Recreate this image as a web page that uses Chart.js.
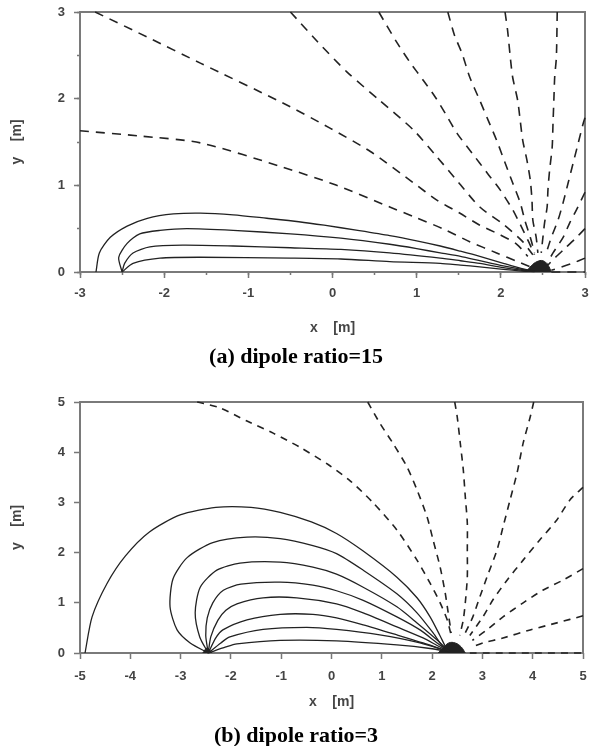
<!DOCTYPE html>
<html>
<head>
<meta charset="utf-8">
<script src="https://cdn.jsdelivr.net/npm/chart.js@4/dist/chart.umd.min.js"></script>
<style>
body { margin:0; background:#fff; width:589px; height:746px; position:relative; overflow:hidden; }
canvas { position:absolute; left:0; }
#chartA { top:0; }
#chartB { top:385px; }
.caption { position:absolute; left:0; width:592px; text-align:center; line-height:26px;
  font:bold 22px "Liberation Serif", "Times New Roman", serif; color:#000; }
</style>
</head>
<body>
<canvas id="chartA" width="589" height="345"></canvas>
<div class="caption" style="top:343px">(a) dipole ratio=15</div>
<canvas id="chartB" width="589" height="335"></canvas>
<div class="caption" style="top:722px">(b) dipole ratio=3</div>
<script>
'use strict'

// (a) dipole ratio=15 の実線（図から読み取った座標）
const aSolid1 = [[-2.81,0],[-2.77,0.22],[-2.64,0.40],[-2.44,0.53],[-2.20,0.62],[-1.89,0.67],[-1.57,0.68],[-1.18,0.66],[-0.78,0.62],[-0.4,0.58],[-0.1,0.54],[0.3,0.48],[0.68,0.42],[1.0,0.36],[1.28,0.30],[1.52,0.24],[1.75,0.18],[2.03,0.10],[2.25,0.04],[2.4,0.01]];
const aSolid2 = [[-2.5,0],[-2.54,0.17],[-2.44,0.33],[-2.29,0.44],[-2.05,0.48],[-1.73,0.50],[-1.18,0.48],[-0.5,0.44],[0.1,0.39],[0.68,0.32],[1.0,0.27],[1.28,0.22],[1.52,0.18],[1.75,0.13],[2.03,0.07],[2.25,0.03],[2.4,0.01]];
const aSolid3 = [[-2.5,0],[-2.47,0.10],[-2.37,0.22],[-2.17,0.29],[-1.78,0.31],[-1.18,0.30],[-0.5,0.28],[0.1,0.26],[0.68,0.22],[1.28,0.16],[1.52,0.13],[1.75,0.10],[2.03,0.05],[2.25,0.02],[2.4,0.01]];
const aSolid4 = [[-2.5,0],[-2.37,0.10],[-2.05,0.16],[-1.57,0.17],[-0.5,0.16],[0.1,0.15],[0.68,0.12],[1.28,0.10],[1.52,0.08],[1.75,0.06],[2.03,0.03],[2.25,0.01],[2.4,0.005]];

// (a) の破線（力線）
const aDash1 = [[-3,1.63],[-2.3,1.57],[-1.57,1.49],[-0.59,1.21],[0.05,1.0],[0.68,0.75],[0.96,0.64],[1.31,0.5],[1.63,0.35],[1.95,0.22],[2.2,0.12],[2.35,0.06]];
const aDash2 = [[-2.82,3],[-2.2,2.71],[-1.57,2.41],[-0.59,1.95],[-0.03,1.66],[0.45,1.39],[0.96,1.03],[1.24,0.83],[1.51,0.68],[1.75,0.54],[1.99,0.43],[2.19,0.32],[2.32,0.18]];
const aDash3 = [[-0.5,3],[-0.18,2.66],[0.17,2.31],[0.56,1.98],[0.96,1.64],[1.24,1.33],[1.5,1.03],[1.75,0.75],[2.03,0.55],[2.26,0.35],[2.38,0.2]];
const aDash4 = [[0.55,3],[0.77,2.64],[0.92,2.42],[1.08,2.21],[1.22,2.02],[1.34,1.83],[1.48,1.60],[1.66,1.37],[1.84,1.14],[1.99,0.95],[2.14,0.72],[2.23,0.55],[2.33,0.35],[2.4,0.2]];
const aDash5 = [[1.37,3],[1.45,2.73],[1.54,2.52],[1.63,2.25],[1.75,1.98],[1.85,1.75],[1.95,1.52],[2.05,1.26],[2.14,1.03],[2.23,0.80],[2.29,0.58],[2.35,0.4],[2.4,0.22]];
const aDash6 = [[2.05,3],[2.08,2.79],[2.11,2.50],[2.14,2.25],[2.2,1.98],[2.23,1.75],[2.26,1.52],[2.31,1.29],[2.35,1.06],[2.37,0.83],[2.38,0.60],[2.42,0.4],[2.44,0.22]];
const aDash7 = [[2.67,3],[2.66,2.48],[2.64,2.25],[2.63,1.98],[2.62,1.72],[2.61,1.44],[2.58,1.18],[2.56,0.95],[2.55,0.75],[2.52,0.57],[2.5,0.4],[2.48,0.22]];
const aDash8 = [[3,1.78],[2.98,1.72],[2.92,1.49],[2.86,1.26],[2.80,1.03],[2.74,0.80],[2.68,0.60],[2.6,0.4],[2.54,0.22]];
const aDash9 = [[3,0.92],[2.9,0.72],[2.82,0.57],[2.74,0.40],[2.62,0.22],[2.55,0.1]];
const aDash10 = [[3,0.5],[2.88,0.38],[2.76,0.27],[2.64,0.16],[2.56,0.08]];
const aDash11 = [[3,0.16],[2.85,0.1],[2.7,0.05],[2.6,0.02]];
const aDash12 = [[2.6,0],[3,0]];
// 極付近の黒い塊
const aBlob = [[2.3,0],[2.36,0.07],[2.43,0.12],[2.5,0.13],[2.56,0.08],[2.6,0]];

// (b) dipole ratio=3 の実線
const bSolid1 = [[-4.9,0],[-4.76,0.72],[-4.46,1.39],[-4.10,1.93],[-3.62,2.41],[-3.01,2.75],[-2.3,2.9],[-1.6,2.9],[-1.02,2.8],[-0.4,2.61],[0.1,2.38],[0.63,2.03],[1.30,1.51],[1.70,1.10],[1.96,0.72],[2.16,0.34],[2.27,0.12],[2.35,0.02]];
const bSolid2 = [[-2.45,0],[-2.81,0.20],[-3.07,0.46],[-3.21,0.92],[-3.15,1.48],[-2.87,1.9],[-2.36,2.2],[-1.68,2.31],[-1.02,2.28],[-0.37,2.14],[0.1,1.98],[0.63,1.65],[1.30,1.18],[1.70,0.8],[2.02,0.40],[2.22,0.12],[2.35,0.02]];
const bSolid3 = [[-2.45,0],[-2.62,0.32],[-2.71,0.8],[-2.61,1.31],[-2.28,1.65],[-1.82,1.79],[-1.02,1.81],[-0.37,1.71],[0.1,1.57],[0.63,1.31],[1.30,0.92],[1.70,0.6],[2.10,0.26],[2.35,0.02]];
const bSolid4 = [[-2.45,0],[-2.5,0.35],[-2.47,0.7],[-2.36,1.0],[-2.15,1.25],[-1.8,1.37],[-1.02,1.41],[-0.37,1.35],[0.1,1.24],[0.63,1.05],[1.30,0.72],[1.76,0.46],[2.10,0.2],[2.35,0.02]];
const bSolid5 = [[-2.45,0],[-2.4,0.32],[-2.26,0.65],[-2.1,0.85],[-1.88,0.98],[-1.36,1.1],[-0.69,1.1],[0.1,0.98],[0.63,0.8],[1.30,0.52],[1.82,0.3],[2.1,0.15],[2.35,0.02]];
const bSolid6 = [[-2.45,0],[-2.3,0.3],[-2.16,0.46],[-1.68,0.66],[-1.02,0.77],[-0.37,0.77],[0.1,0.7],[0.63,0.56],[1.30,0.36],[1.82,0.2],[2.35,0.02]];
const bSolid7 = [[-2.45,0],[-2.2,0.2],[-2.02,0.32],[-1.36,0.47],[-0.49,0.51],[0.1,0.47],[0.96,0.36],[1.76,0.2],[2.35,0.02]];
const bSolid8 = [[-2.45,0],[-2.1,0.12],[-1.88,0.18],[-1.02,0.25],[0.1,0.24],[1.30,0.16],[1.96,0.09],[2.35,0.02]];

// (b) の破線
const bDash1 = [[-2.67,5],[-2.21,4.88],[-1.68,4.62],[-1.16,4.38],[-0.63,4.1],[-0.06,3.75],[0.37,3.43],[0.83,2.99],[1.30,2.45],[1.70,1.85],[1.96,1.39],[2.16,1.0],[2.30,0.66],[2.38,0.35]];
const bDash2 = [[0.72,5],[0.96,4.58],[1.22,4.18],[1.50,3.71],[1.70,3.25],[1.90,2.71],[2.02,2.25],[2.16,1.71],[2.26,1.2],[2.32,0.8],[2.38,0.4]];
const bDash3 = [[2.45,5],[2.50,4.7],[2.56,4.18],[2.62,3.65],[2.66,3.11],[2.70,2.59],[2.70,2.05],[2.70,1.51],[2.66,1.0],[2.62,0.66],[2.55,0.35]];
const bDash4 = [[4.02,5],[3.95,4.7],[3.81,4.18],[3.69,3.59],[3.55,3.05],[3.41,2.51],[3.29,2.05],[3.09,1.51],[2.95,1.12],[2.81,0.72],[2.65,0.38]];
const bDash5 = [[5,3.3],[4.74,3.05],[4.48,2.65],[4.14,2.25],[3.81,1.85],[3.49,1.45],[3.21,1.06],[3.01,0.72],[2.75,0.35]];
const bDash6 = [[5,1.68],[4.6,1.45],[4.2,1.25],[3.81,1.0],[3.41,0.72],[3.09,0.46],[2.8,0.25]];
const bDash7 = [[5,0.74],[4.48,0.6],[3.95,0.46],[3.41,0.3],[3.01,0.2],[2.8,0.12]];
const bDash8 = [[2.75,0],[5,0]];
const bBlob = [[2.12,0],[2.22,0.1],[2.33,0.2],[2.46,0.2],[2.58,0.12],[2.66,0]];
const bBlobLeft = [[-2.56,0],[-2.47,0.1],[-2.38,0]];

// 目盛ラベル
const aXTicks = [-3,-2,-1,0,1,2,3];
const aYTicks = [0,1,2,3];
const bXTicks = [-5,-4,-3,-2,-1,0,1,2,3,4,5];
const bYTicks = [0,1,2,3,4,5];

const tickFont = {family:'Liberation Sans', weight:'bold', size:13};
const labelFont = {family:'Liberation Sans', weight:'bold', size:14};

// 枠線を描くプラグイン（線の下に描く）
const framePlugin = {
    id: 'frame',
    beforeDatasetsDraw(chart) {
        const {ctx, chartArea} = chart;
        ctx.save();
        ctx.strokeStyle = '#7a7a7a';
        ctx.lineWidth = 2;
        ctx.strokeRect(chartArea.left, chartArea.top, chartArea.right - chartArea.left, chartArea.bottom - chartArea.top);
        ctx.restore();
    }
};

function lineSet(pts, dash, width) {
    return {
        data: pts.map(p => ({x: p[0], y: p[1]})),
        showLine: true,
        borderColor: '#222',
        borderWidth: width,
        borderDash: dash,
        pointRadius: 0,
        tension: 0.25,
        clip: 2,
        fill: false
    };
}

function blobSet(pts) {
    return {
        data: pts.map(p => ({x: p[0], y: p[1]})),
        showLine: true,
        borderColor: '#222',
        backgroundColor: '#222',
        borderWidth: 1,
        pointRadius: 0,
        tension: 0.4,
        fill: 'origin'
    };
}

// ラベルによる余白をなくして描画領域の位置を固定する
function fixBox(s, pos, size) {
    if (pos === 'bottom') s.height = size; else s.width = size;
    s.paddingLeft = 0; s.paddingRight = 0;
    s.paddingTop = 0; s.paddingBottom = 0;
}

function majorAxis(pos, ticksArr, size, tpad, titleText, titlePad) {
    return {
        type: 'linear',
        position: pos,
        weight: 1,
        min: ticksArr[0],
        max: ticksArr[ticksArr.length - 1],
        afterFit: s => fixBox(s, pos, size),
        afterBuildTicks: s => { s.ticks = ticksArr.map(v => ({value: v})); },
        border: {display: false},
        grid: {drawOnChartArea: false, tickLength: 6, tickColor: '#777', tickWidth: 1.5},
        ticks: {padding: tpad, color: '#444', font: tickFont, maxRotation: 0, autoSkip: false},
        title: {display: true, text: titleText, color: '#444', font: labelFont, padding: titlePad}
    };
}

function minorAxis(pos, lo, hi) {
    return {
        type: 'linear',
        position: pos,
        weight: 0,
        min: lo,
        max: hi,
        afterFit: s => fixBox(s, pos, 0),
        border: {display: false},
        grid: {drawOnChartArea: false, tickLength: 3, tickColor: '#777', tickWidth: 1.5},
        ticks: {display: false, stepSize: 0.5}
    };
}

function processGraph(canId, solids, dashes, blobs, dash, scales, pad) {
    const ctx = document.getElementById(canId);
    const datasets = [];
    solids.forEach(p => datasets.push(lineSet(p, [], 1.3)));
    dashes.forEach(p => datasets.push(lineSet(p, dash, 1.6)));
    blobs.forEach(p => datasets.push(blobSet(p)));

    new Chart(ctx, {
        type: 'scatter',
        data: {datasets: datasets},
        options: {
            responsive: false,
            animation: false,
            layout: {padding: pad},
            plugins: {legend: {display: false}, tooltip: {enabled: false}},
            scales: scales
        },
        plugins: [framePlugin]
    });
}

// (a) のグラフ
processGraph('chartA',
    [aSolid1, aSolid2, aSolid3, aSolid4],
    [aDash1, aDash2, aDash3, aDash4, aDash5, aDash6, aDash7, aDash8, aDash9, aDash10, aDash11, aDash12],
    [aBlob],
    [9, 7],
    {
        xMinor: minorAxis('bottom', -3, 3),
        yMinor: minorAxis('left', 0, 3),
        x: majorAxis('bottom', aXTicks, 73, 8, 'x    [m]', {bottom: 8}),
        y: majorAxis('left', aYTicks, 80, 9, 'y    [m]', {top: 9})
    },
    {top: 12, right: 4, left: 0, bottom: 0}
);

// (b) のグラフ
processGraph('chartB',
    [bSolid1, bSolid2, bSolid3, bSolid4, bSolid5, bSolid6, bSolid7, bSolid8],
    [bDash1, bDash2, bDash3, bDash4, bDash5, bDash6, bDash7, bDash8],
    [bBlob, bBlobLeft],
    [7, 6],
    {
        x: majorAxis('bottom', bXTicks, 67, 10, 'x    [m]', {bottom: 9}),
        y: majorAxis('left', bYTicks, 80, 9, 'y    [m]', {top: 9})
    },
    {top: 17, right: 6, left: 0, bottom: 0}
);
</script>
</body>
</html>
